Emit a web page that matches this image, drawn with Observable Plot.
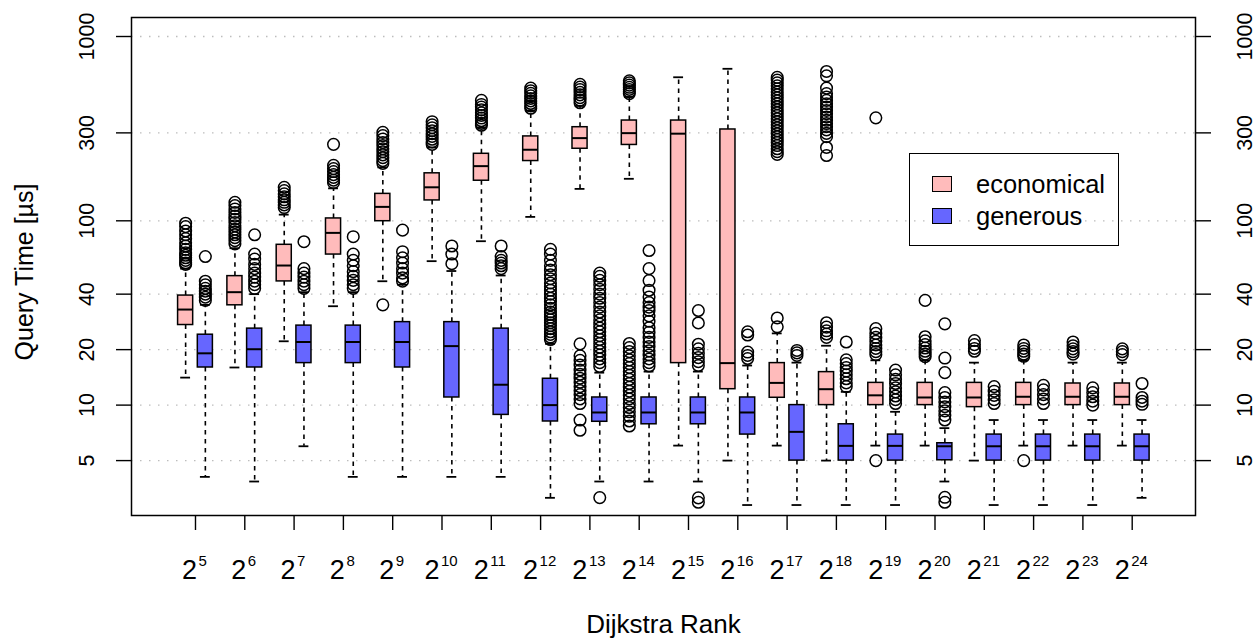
<!DOCTYPE html>
<html><head><meta charset="utf-8">
<script src="https://cdn.jsdelivr.net/npm/d3@7"></script>
<script src="https://cdn.jsdelivr.net/npm/@observablehq/plot@0.6"></script>
<style>
body{margin:0;background:#fff;}
#wrap{position:relative;width:1259px;height:639px;font-family:"Liberation Sans",Arial,sans-serif;}
#legend{position:absolute;left:909px;top:153px;width:208px;height:91px;border:1.3px solid #000;}
.sw{position:absolute;left:22px;width:18px;height:14px;border:1.3px solid #000;}
.lt{position:absolute;left:66px;font-size:25.5px;line-height:25.5px;white-space:nowrap;color:#000;}
</style></head><body><div id="wrap"></div>
<script>
// Dijkstra rank exponents (2^k)
const ranks = [5,6,7,8,9,10,11,12,13,14,15,16,17,18,19,20,21,22,23,24];
const yTicks = [5,10,20,40,100,300,1000];

// economical: whisker low, Q1, median, Q3, whisker high, outliers
const ecoLow  = [14.1,16.0,22.2,34.4,47.0,60.4,77.5,105,149,169,6.03,5.0,6.03,5.0,6.03,6.03,5.0,6.03,6.03,6.03];
const ecoQ1   = [27.2,34.8,46.9,65.6,99.5,129,165,211,246,258,16.9,12.2,10.96,10.0,10.0,10.0,9.75,10.0,10.0,10.0];
const ecoMed  = [33.0,41.0,57.2,86,119,152,198,243,281,299,297,16.9,13.2,12.2,11.3,11.0,11.0,11.1,11.1,11.1];
const ecoQ3   = [39.3,50.1,74.1,103,140,181,231,287,322,350,350,313,16.9,15.1,13.2,13.2,13.2,13.2,13.1,13.1];
const ecoHigh = [55,71,108,150,195,250,320,395,420,470,601,668,24.5,21,17.5,17.5,17,17.5,17,17];
const ecoOut = [
  [97,93,88,84,80,76,73,70,67,65,63,61,59,58],
  [126,121,116,111,106,102,98,94,90,87,84,81,78,75],
  [152,146,140,135,130,126,122,118],
  [260,200,192,185,178,172,166,161],
  [302,290,278,266,256,246,237,228,220,212,205,35],
  [345,332,320,308,297,287,277,268,260],
  [450,428,414,400,386,373,361,349,338,330],
  [525,508,492,476,461,447,433,420,408],
  [550,532,515,498,482,466,451,437,21.5,18.5,17.5,16.5,15.5,14.7,14,13.3,12.6,12,11.4,10.8,10.2,8.3,7.3],
  [575,560,545,530,516,502,490,21.6,20.5,19.5,18.5,17.6,16.8,16,15.2,14.5,13.8,13.1,12.5,11.9,11.3,10.8,10.2,9.7,9.2,8.7,8.2,7.7],
  [],
  [],
  [26.6,29.7,600,580,560,540,520,500,482,465,448,432,416,400,386,372,358,345,332,320,308,297,286,276,266,256,246,237,229],
  [28,26.5,25.3,24.3,23.3,646,612,525,490,470,450,432,414,397,381,366,351,337,324,311,298,286,250,226],
  [26,24.5,23.3,22.2,21.2,20.3,19.5,18.8,5.0,362],
  [37,23.5,22.3,21.3,20.4,19.6,18.9,18.3],
  [22.4,21.3,20.3,19.6],
  [21.2,20.3,19.6,18.9,18.4,5.0],
  [22,21,20.2,19.5,18.9],
  [20.2,19.5,18.8]
];

// generous
const genLow  = [4.08,3.85,5.98,4.08,4.08,4.08,4.08,3.14,3.85,3.85,3.85,2.87,2.87,2.87,2.87,3.85,2.87,2.87,2.87,3.14];
const genQ1   = [16.0,16.0,16.9,16.9,16.0,11.0,8.85,8.15,8.12,7.87,7.87,6.92,5.0,5.0,5.0,5.02,5.0,5.0,5.0,5.0];
const genMed  = [19.1,20.1,22.0,22.0,22.0,20.9,12.9,10.0,9.12,9.12,9.12,9.12,7.16,6.01,6.01,5.98,5.98,5.98,5.98,5.98];
const genQ3   = [24.1,26.0,27.0,27.0,28.2,28.2,26.0,13.9,11.0,11.0,11.0,11.0,10.0,7.87,6.92,6.21,6.92,6.92,6.92,6.92];
const genHigh = [35,40,41,41,45,53.4,50.5,21.5,15,15.2,15.2,16.4,17,11.8,9.2,7.5,8.3,8.3,8.3,8.3];
const genOut = [
  [64,47,45,43,41.5,40,38.5,37],
  [84,66,62,58,55,52,49.5,47,45,43],
  [77,55,52,49.5,47,45,43],
  [82,66,61,57,53,50,47.5,45,43],
  [89,68,63,59,55,52,49,47],
  [73,66,58.5],
  [73,64,61,59,57,55],
  [70,66,61,57,54,51,48.5,46,44,42,40,38,36.5,35,33.5,32,31,30,29,28,27,26,25,24.2,23.4,22.7],
  [52,50,47.5,45,42.5,40,38,36,34,32,30.5,29,27.5,26.2,25,23.8,22.7,21.6,20.6,19.6,18.7,17.8,17,16.2,3.15],
  [69,55,47.4,42,38.6,36,34,32.6,30.5,28.5,26.3,24.8,23.3,22,20.8,19.7,18.7,17.8,17,16.3],
  [32.6,27.9,21.4,20.2,19.1,18.1,17.2,16.4,3.14,2.97],
  [25,24,19.4,18.6,17.9],
  [19.8,19.2,18.6],
  [22,17.6,16.8,16,15.3,14.6,13.9,13.2,12.6],
  [15.5,14.6,13.8,13.1,12.4,11.8,11.2,10.7,10.2],
  [27.6,18,15,11.7,11.0,10.4,9.8,9.3,8.8,8.3,3.16,2.97],
  [12.6,11.9,11.3,10.7,10.2],
  [12.8,12.1,11.4,10.8,10.2],
  [12.4,11.7,11.1,10.5,10.0],
  [13.1,11.0,10.5,10.1]
];

const seriesNames = ["economical","generous"];
const seriesColors = ["#FFBBBB","#6666FF"];

const groups = ranks.map((r,i)=>i);
const OFF = 0.2, HW = 0.153, CW = 0.1;
function build(low,q1,med,q3,high,out,off){
  const b = [], o = [];
  groups.forEach(i=>{
    const x = i + off;
    b.push({x, x1:x-HW, x2:x+HW, c1:x-CW, c2:x+CW, low:low[i], q1:q1[i], med:med[i], q3:q3[i], high:high[i]});
    out[i].forEach(v=>o.push({x, v}));
  });
  return [b,o];
}
const [ecoBoxes, ecoDots] = build(ecoLow,ecoQ1,ecoMed,ecoQ3,ecoHigh,ecoOut,-OFF);
const [genBoxes, genDots] = build(genLow,genQ1,genMed,genQ3,genHigh,genOut,OFF);

function boxMarks(boxes, dots, fill){
  const st = {stroke:"black"};
  return [
    Plot.ruleX(boxes,{x:"x", y1:"q3", y2:"high", ...st, strokeWidth:1.6, strokeDasharray:"4.5,4.5"}),
    Plot.ruleX(boxes,{x:"x", y1:"q1", y2:"low", ...st, strokeWidth:1.6, strokeDasharray:"4.5,4.5"}),
    Plot.ruleY(boxes,{y:"high", x1:"c1", x2:"c2", ...st, strokeWidth:1.8}),
    Plot.ruleY(boxes,{y:"low", x1:"c1", x2:"c2", ...st, strokeWidth:1.8}),
    Plot.rect(boxes,{x1:"x1", x2:"x2", y1:"q1", y2:"q3", fill, ...st, strokeWidth:1.5}),
    Plot.ruleY(boxes,{y:"med", x1:"x1", x2:"x2", ...st, strokeWidth:2}),
    Plot.dot(dots,{x:"x", y:"v", r:5.8, ...st, strokeWidth:1.5, fill:"none"})
  ];
}

const oneDigit = groups.filter(i=>ranks[i]<10);
const twoDigit = groups.filter(i=>ranks[i]>=10);

const chart = Plot.plot({
  width:1259, height:639,
  marginLeft:131, marginRight:64, marginTop:17, marginBottom:124,
  style:{fontFamily:"'Liberation Sans', Arial, sans-serif", background:"white", color:"black"},
  x:{type:"linear", domain:[-1.298,20.284], axis:null},
  y:{type:"log", domain:[2.518,1268], axis:null},
  marks:[
    Plot.ruleY(yTicks,{stroke:"#bdbdbd", strokeWidth:1.3, strokeDasharray:"1.5,7.5"}),
    ...boxMarks(ecoBoxes, ecoDots, seriesColors[0]),
    ...boxMarks(genBoxes, genDots, seriesColors[1]),
    Plot.frame({stroke:"black", strokeWidth:1.5}),
    Plot.axisY({anchor:"left", ticks:yTicks, tickSize:15, tickFormat:()=>"", label:null, strokeWidth:1.4}),
    Plot.axisY({anchor:"right", ticks:yTicks, tickSize:15, tickFormat:()=>"", label:null, strokeWidth:1.4}),
    Plot.axisX({anchor:"bottom", ticks:groups, tickSize:15, tickFormat:()=>"", label:null, strokeWidth:1.4}),
    Plot.text(yTicks,{y:d=>d, text:d=>String(d), frameAnchor:"left", dx:-37.5, rotate:-90, lineAnchor:"bottom", textAnchor:"middle", fontSize:21.5, fill:"black"}),
    Plot.text(yTicks,{y:d=>d, text:d=>String(d), frameAnchor:"right", dx:56.5, rotate:-90, lineAnchor:"bottom", textAnchor:"middle", fontSize:21.5, fill:"black"}),
    Plot.text(oneDigit,{x:d=>d, text:()=>"2", frameAnchor:"bottom", dy:63.5, dx:1.5, textAnchor:"end", lineAnchor:"bottom", fontSize:27, fill:"black"}),
    Plot.text(oneDigit,{x:d=>d, text:i=>String(ranks[i]), frameAnchor:"bottom", dy:50, dx:3, textAnchor:"start", lineAnchor:"bottom", fontSize:15, fill:"black"}),
    Plot.text(twoDigit,{x:d=>d, text:()=>"2", frameAnchor:"bottom", dy:63.5, dx:-2.5, textAnchor:"end", lineAnchor:"bottom", fontSize:27, fill:"black"}),
    Plot.text(twoDigit,{x:d=>d, text:i=>String(ranks[i]), frameAnchor:"bottom", dy:50, dx:-1, textAnchor:"start", lineAnchor:"bottom", fontSize:15, fill:"black"}),
    Plot.text(["Dijkstra Rank"],{frameAnchor:"bottom", dy:117, lineAnchor:"bottom", fontSize:26, fill:"black"}),
    Plot.text(["Query Time [µs]"],{frameAnchor:"left", dx:-99, dy:5.5, rotate:-90, lineAnchor:"bottom", textAnchor:"middle", fontSize:25, fill:"black"})
  ]
});
const wrap = document.getElementById("wrap");
wrap.appendChild(chart);

// legend (inside the plot area, transparent background as in R)
const leg = d3.select(wrap).append("div").attr("id","legend");
seriesNames.forEach((name,i)=>{
  leg.append("div").attr("class","sw").style("top",(22+i*32)+"px").style("background",seriesColors[i]);
  leg.append("div").attr("class","lt").style("top",(18+i*31.5)+"px").text(name);
});
</script></body></html>
